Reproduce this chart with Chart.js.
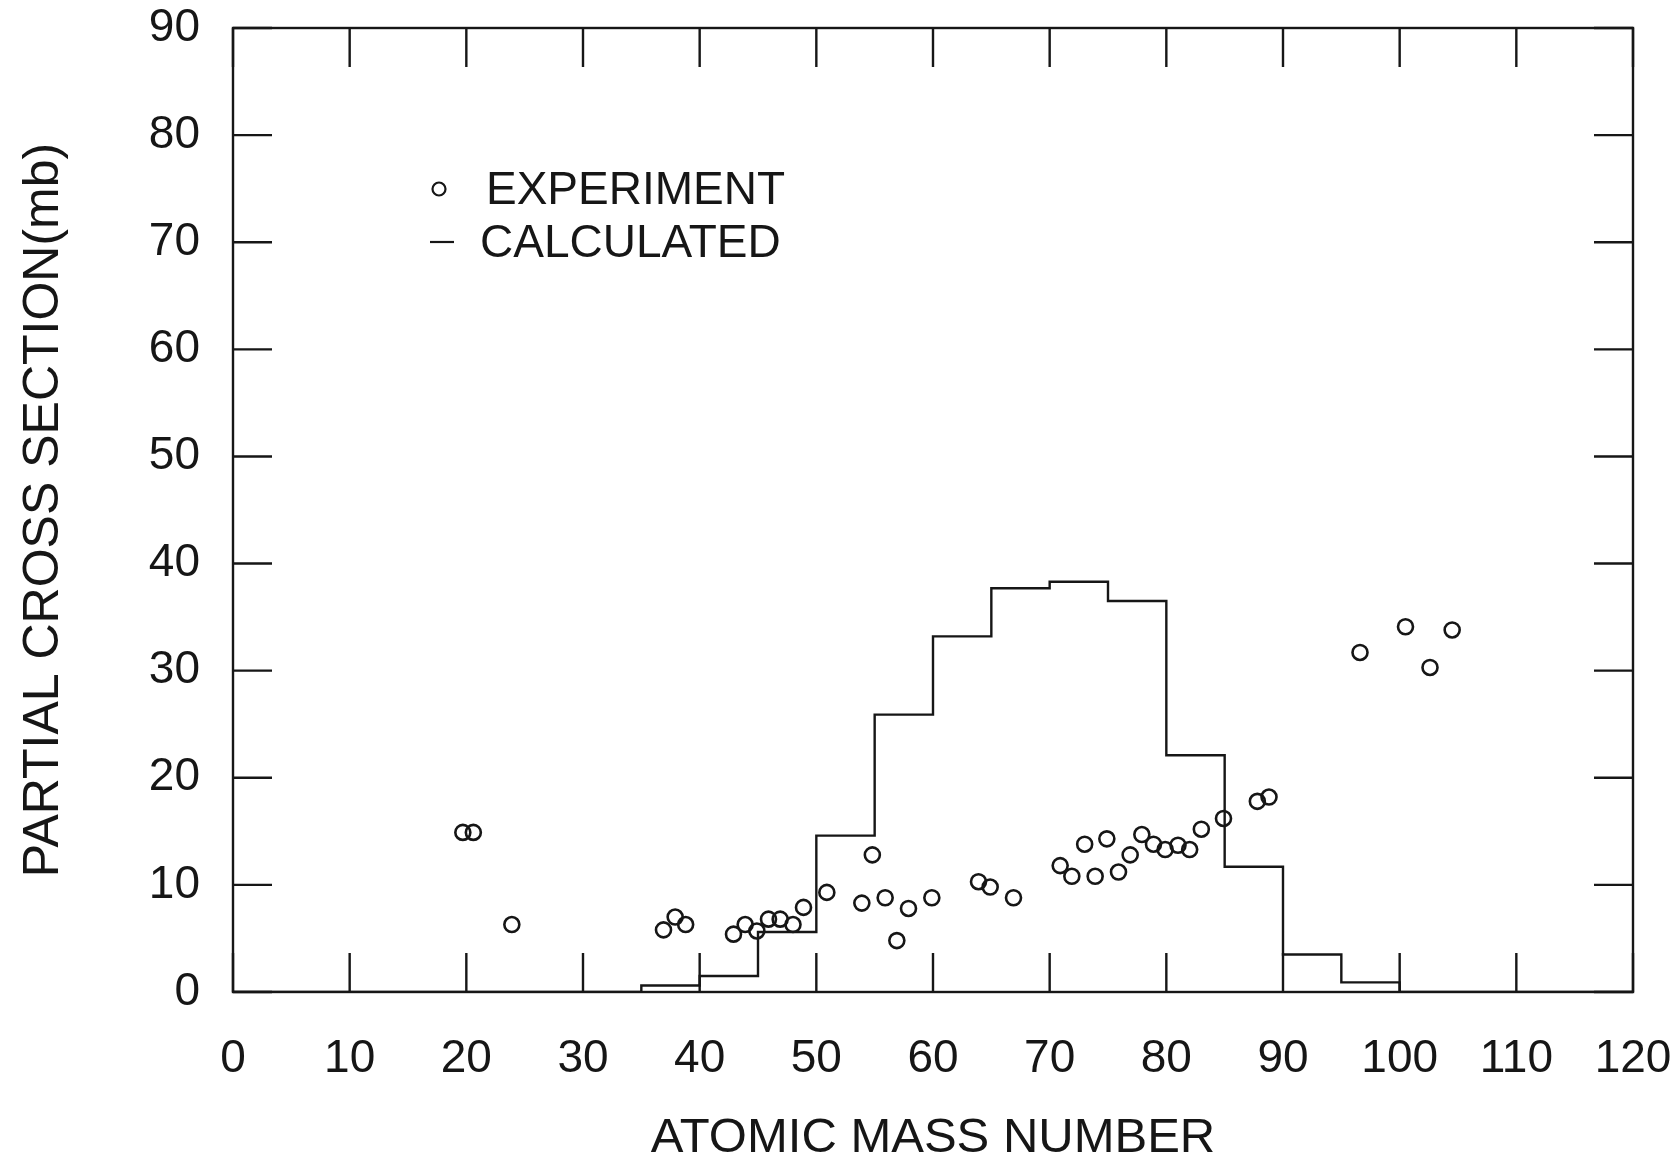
<!DOCTYPE html>
<html>
<head>
<meta charset="utf-8">
<script src="https://cdn.jsdelivr.net/npm/chart.js@4/dist/chart.umd.min.js"></script>
<style>
  body { margin: 0; background: #fff; }
  canvas { display: block; }
</style>
</head>
<body>
<canvas id="xsChart" width="1677" height="1163"></canvas>
<script>
// experiment points (mass number, mb)
const expMass = [19.7, 20.6, 23.9, 36.9, 37.9, 38.8, 42.9, 43.9, 44.9, 45.9, 46.9, 48.0, 48.9,
  50.9, 53.9, 54.8, 55.9, 56.9, 57.9, 59.9, 63.9, 64.9, 66.9, 70.9, 71.9, 73.0, 73.9, 74.9,
  75.9, 76.9, 77.9, 78.9, 79.9, 81.0, 82.0, 83.0, 84.9, 87.8, 88.8, 96.6, 100.5, 102.6, 104.5];
const expSigma = [14.9, 14.9, 6.3, 5.8, 7.0, 6.3, 5.4, 6.3, 5.7, 6.8, 6.8, 6.3, 7.9,
  9.3, 8.3, 12.8, 8.8, 4.8, 7.8, 8.8, 10.3, 9.8, 8.8, 11.8, 10.8, 13.8, 10.8, 14.3,
  11.2, 12.8, 14.7, 13.8, 13.3, 13.7, 13.3, 15.2, 16.2, 17.8, 18.2, 31.7, 34.1, 30.3, 33.8];

// calculated histogram, left bin edges
const calcEdges = [0, 35, 40, 45, 50, 55, 60, 65, 70, 75, 80, 85, 90, 95, 100, 120];
const calcSigma = [0, 0.6, 1.5, 5.6, 14.6, 25.9, 33.2, 37.7, 38.3, 36.5, 22.1, 11.7, 3.5, 0.9, 0, 0];

const xTicks = [0, 10, 20, 30, 40, 50, 60, 70, 80, 90, 100, 110, 120];
const yTicks = [0, 10, 20, 30, 40, 50, 60, 70, 80, 90];

const INK = '#161616';
const FONT = "'Liberation Sans', 'DejaVu Sans', sans-serif";

// frame, inward ticks on all four sides, and the legend inside the plot
const framePlugin = {
    id: 'frameTicks',
    afterDraw(chart) {
        const { ctx, chartArea: a, scales } = chart;
        const len = 39;
        ctx.save();
        ctx.strokeStyle = INK;
        ctx.lineWidth = 2.4;
        ctx.strokeRect(a.left, a.top, a.right - a.left, a.bottom - a.top);
        ctx.beginPath();
        xTicks.forEach(v => {
            const px = scales.x.getPixelForValue(v);
            ctx.moveTo(px, a.bottom); ctx.lineTo(px, a.bottom - len);
            ctx.moveTo(px, a.top); ctx.lineTo(px, a.top + len);
        });
        yTicks.forEach(v => {
            const py = scales.y.getPixelForValue(v);
            ctx.moveTo(a.left, py); ctx.lineTo(a.left + len, py);
            ctx.moveTo(a.right, py); ctx.lineTo(a.right - len, py);
        });
        ctx.stroke();

        // legend
        const ds = chart.data.datasets;
        ctx.font = '46px ' + FONT;
        ctx.fillStyle = INK;
        ctx.textBaseline = 'middle';
        ctx.lineWidth = 2.2;
        ctx.beginPath();
        ctx.arc(439, 189, 6.5, 0, Math.PI * 2);
        ctx.stroke();
        ctx.fillText(ds[0].label, 486, 191);
        ctx.beginPath();
        ctx.moveTo(430, 242); ctx.lineTo(454, 242);
        ctx.stroke();
        ctx.fillText(ds[1].label, 480, 244);
        ctx.restore();
    }
};

new Chart(document.getElementById('xsChart'), {
    type: 'scatter',
    data: {
        datasets: [
            {
                label: 'EXPERIMENT',
                data: expMass.map((m, i) => ({ x: m, y: expSigma[i] })),
                pointStyle: 'circle',
                pointRadius: 7.5,
                borderWidth: 2.6,
                borderColor: INK,
                backgroundColor: 'rgba(0,0,0,0)',
                showLine: false
            },
            {
                label: 'CALCULATED',
                data: calcEdges.map((e, i) => ({ x: e, y: calcSigma[i] })),
                showLine: true,
                stepped: 'before',
                pointRadius: 0,
                borderWidth: 2.4,
                borderColor: INK,
                backgroundColor: 'rgba(0,0,0,0)'
            }
        ]
    },
    options: {
        responsive: false,
        animation: false,
        layout: { padding: { left: 0, top: 28, right: 44, bottom: 0 } },
        plugins: {
            legend: { display: false },
            tooltip: { enabled: false }
        },
        scales: {
            x: {
                type: 'linear',
                min: 0, max: 120,
                afterFit: s => { s.height = 171; s.paddingLeft = 0; s.paddingRight = 0; },
                afterBuildTicks: s => { s.ticks = xTicks.map(v => ({ value: v })); },
                grid: { display: false, drawTicks: false },
                border: { display: false },
                ticks: {
                    color: INK, padding: 40, maxRotation: 0,
                    font: { family: FONT, size: 46 }
                },
                title: {
                    display: true, text: 'ATOMIC MASS NUMBER', color: INK,
                    font: { family: FONT, size: 49, lineHeight: 1 },
                    padding: { top: 0, bottom: 0 }
                }
            },
            y: {
                type: 'linear',
                min: 0, max: 90,
                afterFit: s => { s.width = 233; s.paddingTop = 0; s.paddingBottom = 0; },
                afterBuildTicks: s => { s.ticks = yTicks.map(v => ({ value: v })); },
                grid: { display: false, drawTicks: false },
                border: { display: false },
                ticks: {
                    color: INK, padding: 33,
                    font: { family: FONT, size: 46 }
                },
                title: {
                    display: true, text: 'PARTIAL CROSS SECTION(mb)', color: INK,
                    font: { family: FONT, size: 50, lineHeight: 1 },
                    padding: { top: 19, bottom: 0 }
                }
            }
        }
    },
    plugins: [framePlugin]
});
</script>
</body>
</html>
